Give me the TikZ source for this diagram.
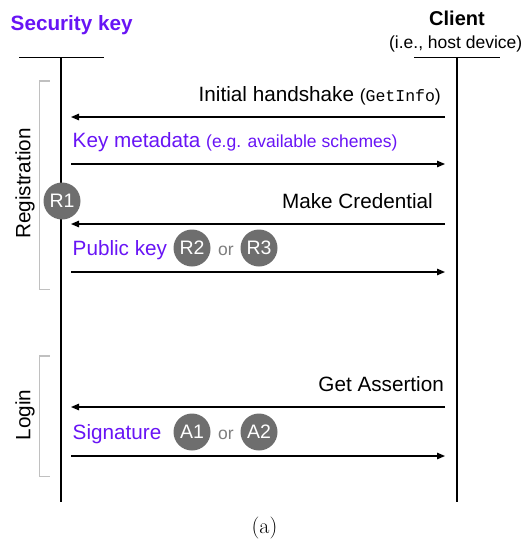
\documentclass[tikz,border=0pt]{standalone}
\usepackage{fontspec}
\usetikzlibrary{arrows.meta}
\newfontfamily\hv{Liberation Sans}
\newfontfamily\cour{Liberation Mono}
\definecolor{kpurple}{RGB}{104,20,245}
\definecolor{bgray}{RGB}{192,192,192}
\definecolor{cgray}{RGB}{110,110,110}
\definecolor{orgray}{RGB}{125,125,125}
\tikzset{
  lifeline/.style={line width=1.4pt},
  msg/.style={line width=1.3pt,-{Triangle[length=8pt,width=6.5pt]}},
  bracket/.style={draw=bgray,line width=1.1pt},
  lbl/.style={inner sep=0pt,font=\hv\fontsize{20.7}{24}\selectfont},
  small/.style={inner sep=0pt,font=\hv\fontsize{17.5}{20}\selectfont},
  badge/.style={circle,fill=cgray,minimum size=37pt,inner sep=0pt,text=white,font=\hv\fontsize{19.5}{20}\selectfont},
  ortext/.style={inner sep=0pt,text=orgray,font=\hv\fontsize{17.5}{20}\selectfont},
}
\begin{document}
\begin{tikzpicture}[x=1pt,y=-1pt]
\useasboundingbox (0,0) rectangle (526,541);
% headers
\node[inner sep=0pt,anchor=base west,text=kpurple,font=\hv\bfseries\fontsize{20.7}{24}\selectfont] (sk) at (10.5,30) {Security key};
\node[inner sep=0pt,anchor=base,font=\hv\bfseries\fontsize{20}{24}\selectfont] (cl) at (457,25) {Client};
\node[small,anchor=base] (cl2) at (455.7,48.3) {(i.e., host device)};
% lifelines
\coordinate (kt) at (61,57.5);
\coordinate (kb) at (61,501.5);
\coordinate (ct) at (457,57.5);
\coordinate (cb) at (457,501.5);
\coordinate (ktl) at (19,57.5);
\coordinate (ktr) at (104,57.5);
\coordinate (ctl) at (414,57.5);
\coordinate (ctr) at (500,57.5);
\draw[lifeline] (ktl) -- (ktr);
\draw[lifeline] (ctl) -- (ctr);
\draw[lifeline] (kt) -- (kb);
\draw[lifeline] (ct) -- (cb);
% brackets
\coordinate (r1) at (49.5,81);
\coordinate (r2) at (39.5,81);
\coordinate (r3) at (39.5,289.5);
\coordinate (r4) at (49.5,289.5);
\draw[bracket] (r1) -- (r2) -- (r3) -- (r4);
\coordinate (l1) at (49.5,356);
\coordinate (l2) at (39.5,356);
\coordinate (l3) at (39.5,476.5);
\coordinate (l4) at (49.5,476.5);
\draw[bracket] (l1) -- (l2) -- (l3) -- (l4);
\node[lbl,rotate=90] (reg) at (25,183.5) {Registration};
\node[lbl,rotate=90] (log) at (25,415) {Login};
% messages
\coordinate (a1s) at (445,117); \coordinate (a1e) at (71,117);
\coordinate (a2s) at (71,164);  \coordinate (a2e) at (445,164);
\coordinate (a3s) at (445,224); \coordinate (a3e) at (71,224);
\coordinate (a4s) at (71,272);  \coordinate (a4e) at (445,272);
\coordinate (a5s) at (445,407); \coordinate (a5e) at (71,407);
\coordinate (a6s) at (71,456);  \coordinate (a6e) at (445,456);
\draw[msg] (a1s) -- (a1e);
\draw[msg] (a2s) -- (a2e);
\draw[msg] (a3s) -- (a3e);
\draw[msg] (a4s) -- (a4e);
\draw[msg] (a5s) -- (a5e);
\draw[msg] (a6s) -- (a6e);
% labels
\node[lbl,anchor=base east] (ih) at (441,101) {Initial handshake {\fontsize{17.5}{20}\selectfont(\cour\fontsize{16.5}{20}\selectfont GetInfo\hv\fontsize{17.5}{20}\selectfont)}};
\node[lbl,anchor=base west,text=kpurple] (km) at (72.5,147.5) {Key metadata {\fontsize{17.5}{20}\selectfont(e.g. available schemes)}};
\node[lbl,anchor=base east] (mc) at (433,208) {Make Credential};
\node[lbl,anchor=base west,text=kpurple] (pk) at (72.5,255) {Public key};
\node[lbl,anchor=base east] (ga) at (444,391.5) {Get Assertion};
\node[lbl,anchor=base west,text=kpurple] (sg) at (72.5,439.5) {Signature};
% badges
\node[badge] (R1) at (62,201) {R1};
\node[badge] (R2) at (192,248) {R2};
\node[ortext,anchor=base] (or1) at (226,255) {or};
\node[badge] (R3) at (259,248) {R3};
\node[badge] (A1) at (192,432) {A1};
\node[ortext,anchor=base] (or2) at (226,439) {or};
\node[badge] (A2) at (259,432) {A2};
% caption
\node[inner sep=0pt,anchor=base,font=\fontsize{22}{26}\selectfont] (cap) at (264.5,533) {(a)};
\end{tikzpicture}
\end{document}
